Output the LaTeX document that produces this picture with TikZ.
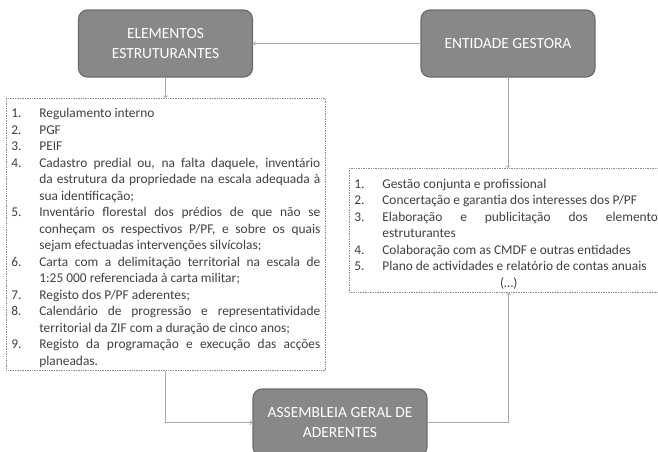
\documentclass[tikz,border=0pt]{standalone}
\usepackage{fontspec}
\setmainfont{Carlito}
\usepackage{enumitem}
\definecolor{boxgray}{HTML}{88888B}
\definecolor{boxedge}{HTML}{6B6B6D}
\definecolor{listtext}{HTML}{3F3F3F}
\definecolor{dotgray}{HTML}{8C8C8C}
\definecolor{linegray}{HTML}{A8A8A8}
\newcommand{\listfont}{\fontsize{13.4}{16.5}\selectfont}
\setlist[enumerate]{nosep,label=\arabic*.,leftmargin=28pt,labelsep=0pt,labelwidth=28pt,align=left}
\begin{document}
\begin{tikzpicture}[x=1pt,y=-1pt,
	headbox/.style={draw=boxedge,line width=1.2pt,fill=boxgray,rounded corners=9pt,
		minimum width=174pt,minimum height=67pt,text=white,align=center,
		font=\fontsize{15.5}{20}\selectfont},
	listbox/.style={draw=dotgray,densely dotted,line width=0.7pt,text=listtext,
		text width=309pt,inner xsep=5pt,inner ysep=3pt,align=justify,
		font=\listfont,anchor=north west},
	link/.style={draw=linegray,line width=0.8pt,->}]
	\useasboundingbox (0,0) rectangle (658,451);
	\clip (0,0) rectangle (658,451);
	% the three grey boxes
	\node[headbox] (elem) at (165.5,43.5) {ELEMENTOS\\ESTRUTURANTES};
	\node[headbox] (gest) at (508,43.5) {ENTIDADE GESTORA};
	\node[headbox] (asm) at (340,422.5) {ASSEMBLEIA GERAL DE\\ADERENTES};
	% the two lists
	\node[listbox,minimum height=270pt] (elist) at (6,98) {%
		\begin{enumerate}
			\item Regulamento interno
			\item PGF
			\item PEIF
			\item Cadastro predial ou, na falta daquele, inventário\linebreak
			da estrutura da propriedade na escala adequada à\linebreak
			sua identificação;
			\item Inventário florestal dos prédios de que não se\linebreak
			conheçam os respectivos P/PF, e sobre os quais\linebreak
			sejam efectuadas intervenções silvícolas;
			\item Carta com a delimitação territorial na escala de\linebreak
			1:25~000 referenciada à carta militar;
			\item Registo dos P/PF aderentes;
			\item Calendário de progressão e representatividade\linebreak
			territorial da ZIF com a duração de cinco anos;
			\item Registo da programação e execução das acções\linebreak
			planeadas.
		\end{enumerate}};
	\node[listbox,minimum height=124pt] (glist) at (349,168) {%
		\begin{enumerate}
			\item Gestão conjunta e profissional
			\item Concertação e garantia dos interesses dos P/PF
			\item Elaboração e publicitação dos elementos\linebreak
			estruturantes
			\item Colaboração com as CMDF e outras entidades
			\item Plano de actividades e relatório de contas anuais
		\end{enumerate}
		{\centering (\ldots)\par}};
	% connectors
	\draw[link] (gest) -- (elem);
	\draw[link] (elem) -- (elist);
	\draw[link] (gest.south) -- (gest.south |- glist.north);
	\draw[link] (elist) |- (asm);
	\draw[link] (asm) -| (glist);
\end{tikzpicture}
\end{document}
